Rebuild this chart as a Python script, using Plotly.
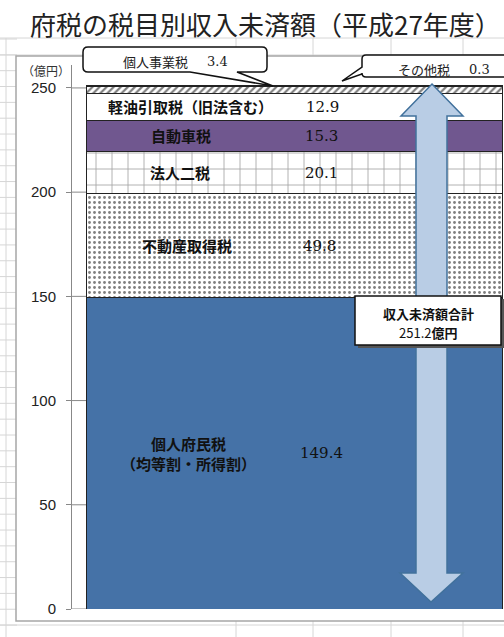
import plotly.graph_objects as go

# ---------------- data ----------------
taxes = ["個人府民税<br>（均等割・所得割）", "不動産取得税", "法人二税", "自動車税",
         "軽油引取税（旧法含む）", "個人事業税", "その他税"]
values = [149.4, 49.8, 20.1, 15.3, 12.9, 3.4, 0.3]
y_ticks = [0, 50, 100, 150, 200, 250]
unit_label = "（億円）"
title_text = "府税の税目別収入未済額（平成27年度）"
total_label = "収入未済額合計"
total_unit = "億円"

# ---------------- layout geometry (pixels) ----------------
W, H = 504, 637
L, T, B = 72, 65, 609          # plot area left, top, bottom (pixels)
PW, PH = W - L, B - T


def px(x):
    return (x - L) / PW


def py(y):
    return (B - y) / PH


fills = [
    dict(color="#4572A7"),
    dict(color="white", pattern=dict(shape=".", fgcolor="#000", bgcolor="white", size=5, solidity=0.25)),
    dict(color="white", pattern=dict(shape="+", fgcolor="#444", bgcolor="white", size=16, solidity=0.1)),
    dict(color="#70578F"),
    dict(color="white"),
    dict(color="white", pattern=dict(shape="/", fgcolor="#000", bgcolor="white", size=5, solidity=0.45)),
    dict(color="white"),
]

fig = go.Figure()
for name, v, f in zip(taxes, values, fills):
    fig.add_trace(go.Bar(x=[0], y=[v], name=name, width=1,
                         marker=dict(**f, line=dict(color="#222", width=1)),
                         hoverinfo="skip", showlegend=False))

shapes = []
grid_col = "#D6D6D6"
# spreadsheet grid in background
y = 39.0
while y < H:
    shapes.append(dict(type="line", xref="paper", yref="paper", x0=px(0), x1=px(17),
                       y0=py(y), y1=py(y), line=dict(color=grid_col, width=1), layer="below"))
    y += 15.84
for yy in (38, 55, 625):
    shapes.append(dict(type="line", xref="paper", yref="paper", x0=px(0), x1=px(W),
                       y0=py(yy), y1=py(yy), line=dict(color=grid_col, width=1), layer="below"))
shapes.append(dict(type="line", xref="paper", yref="paper", x0=px(6), x1=px(6),
                   y0=py(38), y1=py(H), line=dict(color=grid_col, width=1), layer="below"))
for xx in (236, 313, 391, 463):
    for (ya, yb) in ((38, 57), (620, H)):
        shapes.append(dict(type="line", xref="paper", yref="paper", x0=px(xx), x1=px(xx),
                           y0=py(ya), y1=py(yb), line=dict(color=grid_col, width=1), layer="below"))
# chart area
shapes.append(dict(type="rect", xref="paper", yref="paper", x0=px(16), x1=px(W + 10),
                   y0=py(621), y1=py(56), fillcolor="white",
                   line=dict(color="#A6A6A6", width=1.5), layer="below"))

# tick extensions from axis to bar
for v in y_ticks:
    shapes.append(dict(type="line", xref="paper", yref="y", x0=0, x1=px(87), y0=v, y1=v,
                       line=dict(color="#888", width=1), layer="below"))

# double arrow
arrow = [(432, 84), (463, 116), (447, 116), (447, 573), (463, 573), (431, 602),
         (400, 573), (416, 573), (416, 116), (401, 116)]
path = "M " + " L ".join(f"{px(a)},{py(b)}" for a, b in arrow) + " Z"
shapes.append(dict(type="path", xref="paper", yref="paper", path=path,
                   fillcolor="#B9CDE5", line=dict(color="#41719C", width=1.5), layer="above"))

# total box with shadow
shapes.append(dict(type="rect", xref="paper", yref="paper", x0=px(358), x1=px(504),
                   y0=py(348), y1=py(299), fillcolor="#555", line=dict(width=0), layer="above"))
shapes.append(dict(type="rect", xref="paper", yref="paper", x0=px(355), x1=px(501),
                   y0=py(345), y1=py(296), fillcolor="white", line=dict(color="#111", width=1.5),
                   layer="above"))


def P(a, b):
    return f"{px(a)},{py(b)}"


# callout 1 (bottom tail)
x0, x1, y0, y1, r = 83, 267, 47, 72, 5
c1 = (f"M {P(x0 + r, y0)} L {P(x1 - r, y0)} Q {P(x1, y0)} {P(x1, y0 + r)} "
      f"L {P(x1, y1 - r)} Q {P(x1, y1)} {P(x1 - r, y1)} L {P(237, y1)} L {P(273, 86)} "
      f"L {P(190, y1)} L {P(x0 + r, y1)} Q {P(x0, y1)} {P(x0, y1 - r)} "
      f"L {P(x0, y0 + r)} Q {P(x0, y0)} {P(x0 + r, y0)} Z")
shapes.append(dict(type="path", xref="paper", yref="paper", path=c1, fillcolor="white",
                   line=dict(color="#111", width=1.5), layer="above"))
# callout 2 (left tail)
x0, x1, y0, y1, r = 362, 530, 55, 77, 4
c2 = (f"M {P(x0 + r, y0)} L {P(x1, y0)} L {P(x1, y1)} L {P(x0 + r, y1)} "
      f"Q {P(x0, y1)} {P(x0, y1 - r)} L {P(x0, 74)} L {P(342, 81)} L {P(x0, 67)} "
      f"L {P(x0, y0 + r)} Q {P(x0, y0)} {P(x0 + r, y0)} Z")
shapes.append(dict(type="path", xref="paper", yref="paper", path=c2, fillcolor="white",
                   line=dict(color="#111", width=1.5), layer="above"))

# ---------------- annotations ----------------
ann = []
jp = "Noto Sans CJK JP"
serif = "DejaVu Serif"
C = dict(xanchor="center", yanchor="middle", showarrow=False)
ann.append(dict(text=title_text, xref="paper", yref="paper", x=px(265), y=py(23),
                font=dict(family=jp, size=26, color="#222"), **C))
ann.append(dict(text=unit_label, xref="paper", yref="paper", x=px(46), y=py(71),
                font=dict(family=jp, size=12, color="#333"), **C))

label_x = [188, 187, 180, 181, 190]
value_x = [321, 319, 321, 321, 322]
base = 0.0
for i, (name, v) in enumerate(zip(taxes, values)):
    mid = base + v / 2
    base += v
    if i < 5:
        ann.append(dict(text=f"<b>{name}</b>", xref="paper", yref="y", x=px(label_x[i]), y=mid,
                        font=dict(family=jp, size=15, color="#111"), **C))
        ann.append(dict(text=f"{v:.1f}", xref="paper", yref="y", x=px(value_x[i]), y=mid,
                        font=dict(family=serif, size=15, color="#111"), **C))

ann.append(dict(text=taxes[5], xref="paper", yref="paper", x=px(155), y=py(62),
                font=dict(family=jp, size=13, color="#222"), **C))
ann.append(dict(text=f"{values[5]:.1f}", xref="paper", yref="paper", x=px(217), y=py(62),
                font=dict(family=serif, size=13, color="#222"), **C))
ann.append(dict(text=taxes[6], xref="paper", yref="paper", x=px(424), y=py(70),
                font=dict(family=jp, size=13, color="#222"), **C))
ann.append(dict(text=f"{values[6]:.1f}", xref="paper", yref="paper", x=px(479), y=py(70),
                font=dict(family=serif, size=13, color="#222"), **C))

total = sum(values)
ann.append(dict(text=f"<b>{total_label}</b>", xref="paper", yref="paper", x=px(428), y=py(313),
                font=dict(family=jp, size=13, color="#111"), **C))
ann.append(dict(text=f"{total:.1f}<b>{total_unit}</b>", xref="paper", yref="paper",
                x=px(428), y=py(332), font=dict(family=jp, size=13, color="#111"), **C))

fig.update_layout(
    width=W, height=H,
    margin=dict(l=L, r=0, t=T, b=H - B, pad=0, autoexpand=False),
    paper_bgcolor="white", plot_bgcolor="white",
    barmode="stack",
    xaxis=dict(visible=False, range=[-0.5361, 0.5048], fixedrange=True, automargin=False),
    yaxis=dict(range=[0, 261], tickvals=y_ticks, showgrid=False, zeroline=False,
               automargin=False,
               showline=True, linecolor="#888", linewidth=1,
               ticks="outside", ticklen=5, tickcolor="#888", ticklabelstandoff=7,
               tickfont=dict(family="Liberation Sans", size=15, color="#222")),
    shapes=shapes,
    annotations=ann,
)

fig.write_html("out.html", config={"displayModeBar": False},
               post_script="document.body.style.margin='0';")
